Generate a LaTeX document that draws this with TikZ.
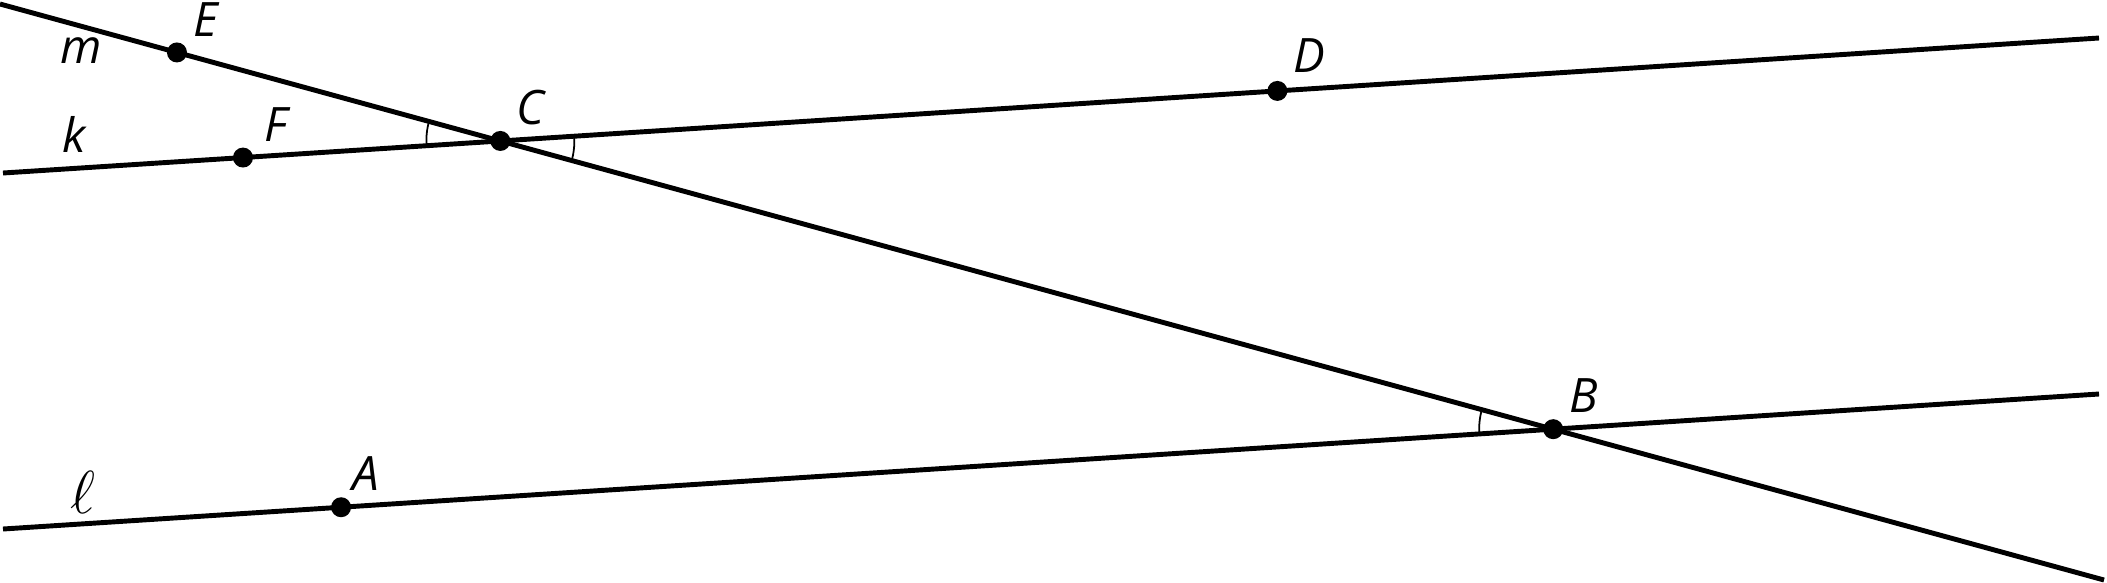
\documentclass[tikz,border=0pt]{standalone}
\usepackage{fontspec}
\setmainfont{Open Sans}
\usetikzlibrary{positioning,calc,angles}
\tikzset{
  dot/.style={circle,fill,inner sep=0pt,minimum size=0.2cm},
  lbl/.style={inner sep=0pt,font=\fontsize{13.5}{16}\selectfont\itshape},
  ln/.style={line width=1.4pt},
  angmark/.style={draw,line width=0.5pt,angle radius=0.74cm}
}
\begin{document}
\begin{tikzpicture}
  \useasboundingbox (0,0) rectangle (21.07,5.82);

  \coordinate (mL) at (0,5.78);
  \coordinate (mR) at (21.04,0.02);
  \coordinate (kL) at (0.03,4.09);
  \coordinate (kR) at (20.99,5.44);
  \coordinate (lL) at (0.03,0.53);
  \coordinate (lR) at (20.99,1.88);
  \draw[ln] (mL) -- (mR);
  \draw[ln] (kL) -- (kR);
  \draw[ln] (lL) -- (lR);

  \node[dot] (C) at (intersection of mL--mR and kL--kR) {};
  \node[dot] (B) at (intersection of mL--mR and lL--lR) {};
  \node[dot] (E) at ($(mL)!0.0841!(mR)$) {};
  \node[dot] (F) at ($(kL)!0.1145!(kR)$) {};
  \node[dot] (D) at ($(kL)!0.608!(kR)$) {};
  \node[dot] (A) at ($(lL)!0.1613!(lR)$) {};

  \pic[angmark] {angle=E--C--F};
  \pic[angmark] {angle=B--C--D};
  \pic[angmark] {angle=C--B--A};

  \node[lbl, above right=0.08cm and 0.08cm of E] (E-lab) {E};
  \node[lbl, above right=0.08cm and 0.13cm of F] (F-lab) {F};
  \node[lbl, above right=0.08cm and 0.08cm of C] (C-lab) {C};
  \node[lbl, above right=0.1cm and 0.08cm of D] (D-lab) {D};
  \node[lbl, above right=0.08cm and 0.08cm of B] (B-lab) {B};
  \node[lbl, above right=0.08cm and 0.03cm of A] (A-lab) {A};

  \node[lbl] (m-lab) at (0.81,5.31) {m};
  \node[lbl] (k-lab) at (0.74,4.48) {k};
  \node[lbl, font=\fontsize{17}{20}\selectfont] (l-lab) at (0.83,0.9) {$\ell$};
\end{tikzpicture}
\end{document}
